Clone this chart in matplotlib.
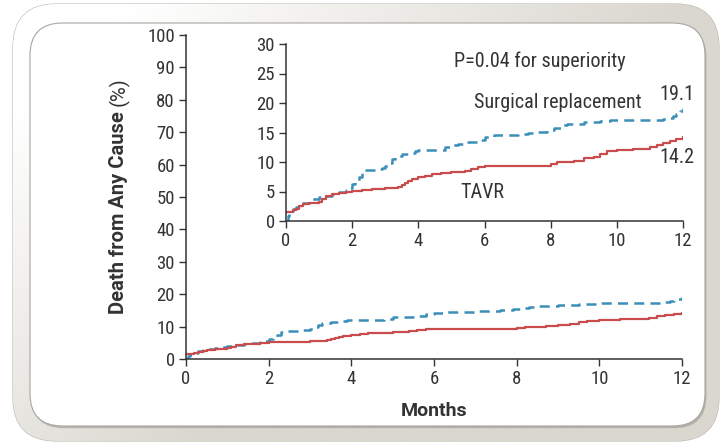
import numpy as np
import matplotlib
matplotlib.use("Agg")
import matplotlib.pyplot as plt
from matplotlib.patches import FancyBboxPatch
from matplotlib import font_manager

# Kaplan-Meier style curves (months, % dead)
surg_t = [0, 0.05, 0.1, 0.2, 0.3, 0.4, 0.5, 0.7, 0.8, 1.0, 1.2, 1.4, 1.6, 1.8, 1.9, 2.0,
          2.1, 2.2, 2.3, 2.4, 2.7, 2.9, 3.0, 3.1, 3.2, 3.3, 3.5, 3.7, 3.9, 4.0, 4.5, 4.8,
          5.0, 5.2, 5.5, 5.8, 6.0, 6.3, 6.6, 7.0, 7.3, 7.6, 7.9, 8.1, 8.3, 8.5, 8.8, 9.0,
          9.5, 9.8, 10.0, 11.4, 11.5, 11.7, 11.8, 11.9, 12.0]
surg_v = [0, 0.8, 1.5, 2.0, 2.4, 2.8, 3.0, 3.4, 3.7, 4.1, 4.3, 4.6, 4.9, 5.3, 5.6, 6.2,
          6.8, 7.5, 8.2, 8.6, 8.8, 9.0, 9.3, 9.8, 10.5, 11.0, 11.3, 11.6, 11.9, 12.0, 12.1,
          12.5, 12.9, 13.1, 13.4, 13.8, 14.2, 14.5, 14.6, 14.7, 14.9, 15.1, 15.4, 15.7,
          16.2, 16.4, 16.5, 16.7, 16.9, 17.1, 17.2, 17.3, 17.5, 17.8, 18.1, 18.6, 19.1]

tavr_t = [0, 0.2, 0.3, 0.4, 0.5, 0.7, 1.0, 1.1, 1.2, 1.4, 1.6, 1.8, 2.0, 2.3, 2.6, 3.0,
          3.4, 3.5, 3.6, 3.7, 3.8, 4.0, 4.2, 4.4, 4.7, 5.0, 5.4, 5.6, 5.8, 6.0, 7.9, 8.0,
          8.2, 8.7, 9.0, 9.3, 9.5, 9.7, 10.0, 10.5, 11.0, 11.2, 11.4, 11.6, 11.8, 12.0]
tavr_v = [1.5, 1.8, 2.1, 2.6, 2.9, 3.1, 3.3, 3.7, 4.2, 4.5, 4.7, 4.9, 5.1, 5.3, 5.4, 5.6,
          5.8, 6.1, 6.5, 6.8, 7.1, 7.4, 7.6, 7.9, 8.1, 8.3, 8.5, 8.8, 9.2, 9.4, 9.4, 9.7,
          10.0, 10.2, 10.6, 10.9, 11.4, 11.8, 12.0, 12.2, 12.5, 12.8, 13.2, 13.5, 13.9,
          14.2]

x_ticks = [0, 2, 4, 6, 8, 10, 12]
main_yticks = [0, 10, 20, 30, 40, 50, 60, 70, 80, 90, 100]
inset_yticks = [0, 5, 10, 15, 20, 25, 30]


# pick a narrow face if one is installed (original uses a condensed sans)
def find_font(bold):
    keys = ["RobotoCondensed", "Roboto_Condensed", "LiberationSansNarrow",
            "DejaVuSansCondensed", "OpenSansCondensed", "Condensed", "Narrow"]
    fonts = font_manager.fontManager.ttflist
    for k in keys:
        for f in fonts:
            fn = f.fname.replace("-", "").replace(" ", "")
            is_bold = f.weight in ("bold", 700) or "Bold" in f.fname
            if k.replace("-", "") in fn and is_bold == bold and "Italic" not in f.fname \
                    and "Oblique" not in f.fname:
                return font_manager.FontProperties(fname=f.fname)
    return font_manager.FontProperties(family="Lato", weight="bold" if bold else "normal")


REG = find_font(False)
LABEL = font_manager.FontProperties(family=["Roboto", "DejaVu Sans"], weight="bold")
LABEL_REG = font_manager.FontProperties(family=["Roboto", "DejaVu Sans"])

BLUE = "#3b8fb8"
RED = "#c94b4b"
INK = "#333333"

fig = plt.figure(figsize=(7.22, 4.47), dpi=100)
fig.patch.set_facecolor("white")

W, H = 722.0, 447.0


def box(x0, y0, x1, y1):
    return (x0 / W, 1 - y1 / H, (x1 - x0) / W, (y1 - y0) / H)


# background frame lives in an axes under everything else
bg = fig.add_axes([0, 0, 1, 1], zorder=-5)
bg.axis("off")
bg.set_xlim(0, 1)
bg.set_ylim(0, 1)

bx, by, bw, bh = box(13, 4, 719, 441)
outer = FancyBboxPatch((bx, by), bw, bh, boxstyle="round,pad=0,rounding_size=0.06",
                       transform=bg.transAxes, facecolor="#dad7cf",
                       edgecolor="#b9b6ae", linewidth=0.8, mutation_aspect=W / H)
bg.add_patch(outer)
gx, gy = np.meshgrid(np.linspace(0, 1, 200), np.linspace(0, 1, 200))
grad = np.clip(1.25 - (gx * 1.3 + gy * 0.9), 0, 1)
cmap = matplotlib.colors.LinearSegmentedColormap.from_list("g", ["#dad7cf", "#ffffff"])
im = bg.imshow(grad, extent=[0, 1, 0, 1], origin="upper", cmap=cmap, aspect="auto",
               zorder=1)
im.set_clip_path(outer)

sx, sy, sw, sh = box(30, 23, 705, 426)
shadow = FancyBboxPatch((sx + 0.002, sy - 0.005), sw, sh,
                        boxstyle="round,pad=0,rounding_size=0.045",
                        transform=bg.transAxes, facecolor="#9a9892",
                        edgecolor="none", mutation_aspect=W / H, alpha=0.6, zorder=2)
inner = FancyBboxPatch((sx, sy), sw, sh, boxstyle="round,pad=0,rounding_size=0.045",
                       transform=bg.transAxes, facecolor="white",
                       edgecolor="#a8a6a0", linewidth=0.8, mutation_aspect=W / H, zorder=3)
bg.add_patch(shadow)
bg.add_patch(inner)


def style_axes(ax):
    for s in ["top", "right"]:
        ax.spines[s].set_visible(False)
    for s in ["left", "bottom"]:
        ax.spines[s].set_color(INK)
        ax.spines[s].set_linewidth(1.1)
    ax.tick_params(colors=INK, labelcolor=INK, length=5, width=1.0, direction="out",
                   pad=3)
    ax.set_facecolor("none")


def tick_fonts(ax):
    for lab in ax.get_xticklabels() + ax.get_yticklabels():
        lab.set_fontproperties(REG)
        lab.set_fontsize(13.5)


ax = fig.add_axes([186 / W, 1 - 359 / H, (682 - 186) / W, (359 - 35) / H])
style_axes(ax)
ax.step(surg_t, surg_v, where="post", color=BLUE, lw=1.8, ls=(0, (4, 2.5)))
ax.step(tavr_t, tavr_v, where="post", color=RED, lw=1.6)
ax.set_xlim(0, 12)
ax.set_ylim(0, 100)
ax.set_xticks(x_ticks)
ax.set_yticks(main_yticks)
tick_fonts(ax)

fig.text(434 / W, 1 - 411 / H, "Months", ha="center", va="center",
         fontproperties=LABEL, fontsize=14, color=INK)
fig.text(119 / W, 1 - 111 / H, "Death from Any Cause", rotation=90, ha="right",
         va="center", rotation_mode="anchor", fontproperties=LABEL, fontsize=14.5,
         color=INK)
fig.text(119 / W, 1 - 106 / H, "(%)", rotation=90, ha="left", va="center",
         rotation_mode="anchor", fontproperties=LABEL_REG, fontsize=14.5, color=INK)

ins = fig.add_axes([286 / W, 1 - 221 / H, (683 - 286) / W, (221 - 44) / H])
style_axes(ins)
ins.step(surg_t, surg_v, where="post", color=BLUE, lw=1.8, ls=(0, (4, 2.5)))
ins.step(tavr_t, tavr_v, where="post", color=RED, lw=1.6)
ins.set_xlim(0, 12)
ins.set_ylim(0, 30)
ins.set_xticks(x_ticks)
ins.set_yticks(inset_yticks)
tick_fonts(ins)

for x, y, s in [(7.68, 27, "P=0.04 for superiority"), (8.22, 20, "Surgical replacement"),
                (5.95, 4.9, "TAVR"), (11.82, 21.4, "19.1"), (11.82, 10.8, "14.2")]:
    ins.text(x, y, s, ha="center", va="center", fontproperties=REG, fontsize=14.5,
             color=INK)

fig.savefig("out.png", dpi=100, facecolor=fig.get_facecolor())
